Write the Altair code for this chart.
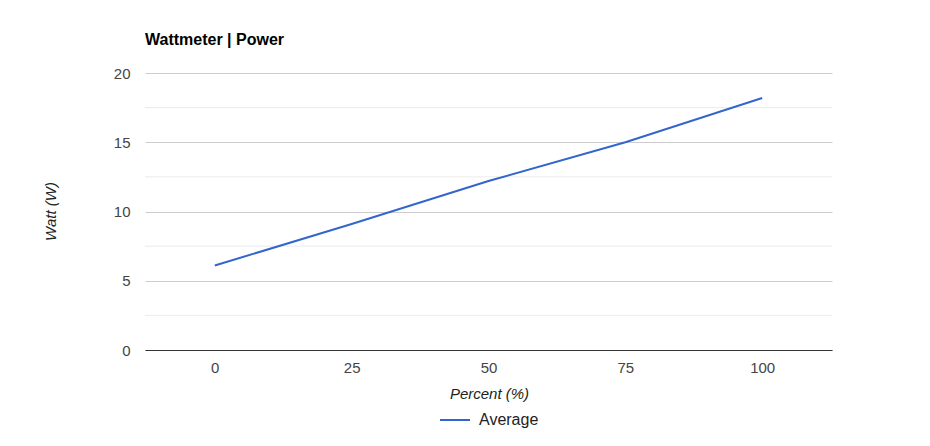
import altair as alt
import pandas as pd

percent = [0, 25, 50, 75, 100]
watts = [6.1, 9.1, 12.2, 15.0, 18.2]
series_name = "Average"
x_ticks = [0, 25, 50, 75, 100]
y_ticks = [0, 5, 10, 15, 20]
y_minor = [2.5, 7.5, 12.5, 17.5]

df = pd.DataFrame({"Percent": percent, "Watt": watts, "Series": [series_name] * len(percent)})
minor_df = pd.DataFrame({"y": y_minor})

FONT = "Liberation Sans"
xscale = alt.Scale(domain=[-12.75, 112.75], nice=False, zero=False)
yscale = alt.Scale(domain=[0, 20], nice=False)

yaxis = alt.Axis(values=y_ticks, title="Watt (W)", grid=True, gridColor="#cccccc",
                 ticks=False, domain=False, labelPadding=15, labelFontSize=15,
                 labelColor="#444444", labelFont=FONT,
                 titleFont=FONT, titleFontSize=15, titleFontStyle="italic",
                 titleFontWeight="normal", titleColor="#222222",
                 titleX=-95, titleY=138, titleBaseline="middle", titleAlign="center",
                 titleAngle=-90)

minor = alt.Chart(minor_df).mark_rule(color="#ebebeb", strokeWidth=1).encode(
    y=alt.Y("y:Q", scale=yscale, axis=yaxis)
)

line = alt.Chart(df).mark_line(strokeWidth=2).encode(
    x=alt.X("Percent:Q", scale=xscale,
            axis=alt.Axis(values=x_ticks, title="Percent (%)", grid=False, ticks=False,
                          domainColor="#333333", domainWidth=1, labelPadding=10,
                          labelFontSize=15, labelColor="#444444", labelFont=FONT,
                          titleFont=FONT, titleFontSize=15, titleFontStyle="italic",
                          titleFontWeight="normal", titleColor="#222222",
                          titleX=344, titleY=43, titleBaseline="middle", titleAlign="center")),
    y=alt.Y("Watt:Q", scale=yscale, axis=yaxis),
    color=alt.Color("Series:N", scale=alt.Scale(range=["#3366cc"]),
                    legend=alt.Legend(title=None, orient="none", legendX=294, legendY=331,
                                      symbolType="stroke", symbolSize=900, symbolStrokeWidth=2,
                                      labelFont=FONT, labelFontSize=16, labelColor="#222222",
                                      labelOffset=8)),
)

title = alt.Chart(pd.DataFrame({"t": ["Wattmeter | Power"]})).mark_text(
    align="left", baseline="alphabetic", font=FONT, fontSize=16, fontWeight="bold", color="#000000"
).encode(x=alt.value(0), y=alt.value(-28), text="t:N")

chart = alt.layer(minor, line, title).properties(
    width=687, height=277,
    padding={"left": 137, "top": 65, "right": 90, "bottom": 84},
    autosize=alt.AutoSizeParams(type="none"),
    background="white",
).configure_view(stroke=None)

chart.save("out.html", embed_options={"renderer": "svg", "actions": False})
